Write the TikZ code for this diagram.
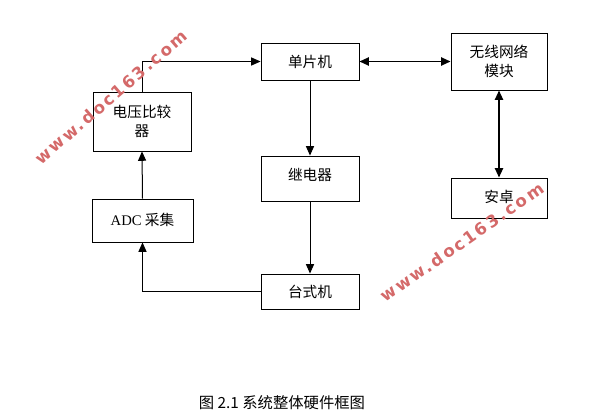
\documentclass[tikz,border=0pt]{standalone}
\usepackage{fontspec}
\setmainfont{Liberation Serif}
\newfontfamily\cjk{Noto Sans CJK SC}
\newfontfamily\wmfont[LetterSpace=14]{DejaVu Sans}
\usetikzlibrary{arrows.meta}
\definecolor{wmred}{RGB}{212,105,105}

\tikzset{
  block/.style={draw, line width=0.65pt, inner sep=0pt, align=center,
    font=\cjk\fontsize{11}{14.5}\selectfont},
  arr/.style={-{Triangle[length=7pt,width=6pt]}, line width=0.75pt},
  darr/.style={{Triangle[length=7pt,width=6pt]}-{Triangle[length=7pt,width=6pt]}, line width=1.4pt},
  wm/.style={text=wmred, font=\wmfont\bfseries\fontsize{12.5}{14}\selectfont}
}

\begin{document}
\begin{tikzpicture}[x=0.75pt, y=-0.75pt]
\useasboundingbox (0,0) rectangle (602,417);

% blocks
\node[block, minimum width=73.5pt, minimum height=27.75pt] (mcu) at (310,61.5) {单片机};
\node[block, minimum width=72pt, minimum height=42.75pt] (wifi) at (499,61.5) {无线网络\\模块};
\node[block, minimum width=73.5pt, minimum height=44.25pt] (comp) at (142,121.5) {电压比较\\器};
\node[block, minimum width=73.5pt, minimum height=33.75pt, text depth=7pt] (relay) at (310,178.5) {继电器};
\node[block, minimum width=72pt, minimum height=30pt, text depth=2pt] (android) at (499,198) {安卓};
\node[block, minimum width=75.75pt, minimum height=32.25pt, text depth=2pt] (adc) at (142.5,220.5) {{\rmfamily ADC} 采集};
\node[block, minimum width=73.5pt, minimum height=26.25pt] (pc) at (310,291.5) {台式机};

% connectors
\draw[arr] (comp.north) |- (mcu.west);
\draw[arr] (mcu.south) -- (relay.north);
\draw[arr] (relay.south) -- (pc.north);
\draw[arr] (pc.west) -| (adc.south);
\draw[arr] (adc.north) -- (comp.south);
\draw[darr] (mcu.east) -- (wifi.west);
\draw[darr] (wifi.south) -- (android.north);

% watermarks
\node[wm, rotate=41] (wm1) at (111,97) {www.doc163.com};
\node[wm, rotate=35] (wm2) at (462,242) {www.doc163.com};

\node[font=\cjk\fontsize{11.5}{13}\selectfont] (cap) at (282,403) {图 2.1 系统整体硬件框图};
\end{tikzpicture}
\end{document}
